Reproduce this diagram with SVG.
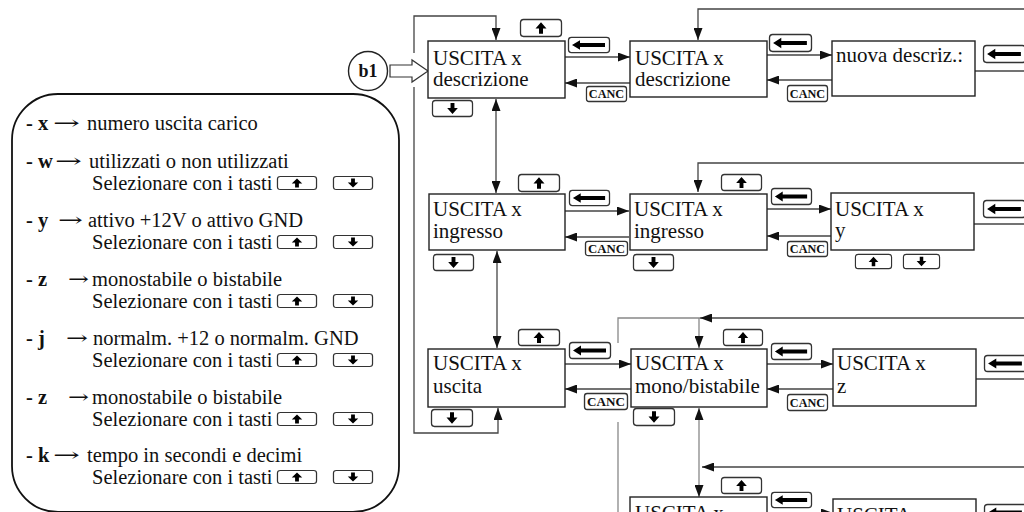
<svg xmlns="http://www.w3.org/2000/svg" xmlns:xlink="http://www.w3.org/1999/xlink" width="1024" height="512" viewBox="0 0 1024 512">
<style>
.box{fill:#fff;stroke:#222;stroke-width:1.4}
.t{font-family:"Liberation Serif","Times New Roman",serif;font-size:21px;fill:#111}
.lt{font-family:"Liberation Serif","Times New Roman",serif;font-size:20.5px;fill:#111}
.lb{font-family:"Liberation Serif","Times New Roman",serif;font-size:20.5px;font-weight:bold;fill:#111}
.ar{font-family:"DejaVu Serif","Liberation Serif",serif;font-size:18px;fill:#111}
.c{fill:none;stroke:#444;stroke-width:1.3}
.cg{fill:none;stroke:#888;stroke-width:1.3}
.key{fill:#fff;stroke:#333;stroke-width:1.3}
.canc{font-family:"Liberation Serif","Times New Roman",serif;font-size:12.5px;font-weight:bold;fill:#111}
</style>
<defs>
<marker id="ah" markerUnits="userSpaceOnUse" markerWidth="13" markerHeight="9" refX="12" refY="4.5" orient="auto-start-reverse" viewBox="0 0 13 9">
<path d="M0,0 L12,4.5 L0,9 z" fill="#111"/>
</marker>
<symbol id="kUp" viewBox="0 0 42 17" preserveAspectRatio="none" overflow="visible">
<rect class="key" x="0.5" y="0.5" width="41" height="16" rx="3"/>
<path d="M21,3 L15.5,9 L26.5,9 z M19,9 h4 v5 h-4 z" fill="#000"/>
</symbol>
<symbol id="kDown" viewBox="0 0 42 17" preserveAspectRatio="none" overflow="visible">
<rect class="key" x="0.5" y="0.5" width="41" height="16" rx="3"/>
<path d="M21,14 L15.5,8 L26.5,8 z M19,8 h4 v-5 h-4 z" fill="#000"/>
</symbol>
<symbol id="kLeft" viewBox="0 0 42 17" preserveAspectRatio="none" overflow="visible">
<rect class="key" x="0.5" y="0.5" width="41" height="16" rx="3"/>
<path d="M4,8.5 L12,3.5 L12,13.5 z M12,6.5 h25 v4 h-25 z" fill="#000"/>
</symbol>
<symbol id="kCanc" viewBox="0 0 42 16" preserveAspectRatio="none" overflow="visible">
<rect class="key" x="0.5" y="0.5" width="41" height="15" rx="2.5"/>
<text class="canc" x="21" y="12.5" text-anchor="middle">CANC</text>
</symbol>
</defs>
<rect width="1024" height="512" fill="#fff"/>

<g id="legend">
<rect x="12" y="94" width="387" height="418" rx="46" ry="46" fill="none" stroke="#111" stroke-width="1.8"/>
<text class="lb" x="26" y="130">- x</text><text class="ar" x="53" y="129" textLength="27" lengthAdjust="spacingAndGlyphs">→</text><text class="lt" x="87" y="130">numero uscita carico</text>
<text class="lb" x="26" y="168">- w</text><text class="ar" x="55" y="167" textLength="27" lengthAdjust="spacingAndGlyphs">→</text><text class="lt" x="89" y="168">utilizzati o non utilizzati</text>
<text class="lt" x="92" y="190">Selezionare con i tasti</text>
<use xlink:href="#kUp" x="277" y="176" width="40" height="14"/><use xlink:href="#kDown" x="333" y="176" width="40" height="14"/>
<text class="lb" x="26" y="227">- y</text><text class="ar" x="58" y="226" textLength="25" lengthAdjust="spacingAndGlyphs">→</text><text class="lt" x="88" y="227">attivo +12V  o attivo GND</text>
<text class="lt" x="92" y="249">Selezionare con i tasti</text>
<use xlink:href="#kUp" x="277" y="235" width="40" height="14"/><use xlink:href="#kDown" x="333" y="235" width="40" height="14"/>
<text class="lb" x="26" y="286">- z</text><text class="ar" x="68" y="285" textLength="21" lengthAdjust="spacingAndGlyphs">→</text><text class="lt" x="92" y="286">monostabile o bistabile</text>
<text class="lt" x="92" y="308">Selezionare con i tasti</text>
<use xlink:href="#kUp" x="277" y="294" width="40" height="14"/><use xlink:href="#kDown" x="333" y="294" width="40" height="14"/>
<text class="lb" x="26" y="345">- j</text><text class="ar" x="66" y="344" textLength="22" lengthAdjust="spacingAndGlyphs">→</text><text class="lt" x="93" y="345">normalm. +12 o normalm. GND</text>
<text class="lt" x="92" y="367">Selezionare con i tasti</text>
<use xlink:href="#kUp" x="277" y="353" width="40" height="14"/><use xlink:href="#kDown" x="333" y="353" width="40" height="14"/>
<text class="lb" x="26" y="404">- z</text><text class="ar" x="68" y="403" textLength="21" lengthAdjust="spacingAndGlyphs">→</text><text class="lt" x="92" y="404">monostabile o bistabile</text>
<text class="lt" x="92" y="426">Selezionare con i tasti</text>
<use xlink:href="#kUp" x="277" y="412" width="40" height="14"/><use xlink:href="#kDown" x="333" y="412" width="40" height="14"/>
<text class="lb" x="26" y="462">- k</text><text class="ar" x="53" y="461" textLength="27" lengthAdjust="spacingAndGlyphs">→</text><text class="lt" x="87" y="462">tempo in secondi e decimi</text>
<text class="lt" x="92" y="484">Selezionare con i tasti</text>
<use xlink:href="#kUp" x="277" y="470" width="40" height="14"/><use xlink:href="#kDown" x="333" y="470" width="40" height="14"/>
</g>

<g id="connectors">
<path class="c" d="M414,53 L414,16 L496,16 L496,40" marker-end="url(#ah)"/>
<path class="c" d="M414,87 L414,433 L498,433 L498,408" marker-end="url(#ah)"/>
<path class="c" d="M496,99 L496,193" marker-start="url(#ah)" marker-end="url(#ah)"/>
<path class="c" d="M497,251 L497,348" marker-start="url(#ah)" marker-end="url(#ah)"/>
<path class="c" d="M565,57 L630,57" marker-end="url(#ah)"/>
<path class="c" d="M630,83 L565,83" marker-end="url(#ah)"/>
<path class="c" d="M767,55 L832,55" marker-end="url(#ah)"/>
<path class="c" d="M832,80 L767,80" marker-end="url(#ah)"/>
<path class="c" d="M1024,9 L698,9 L698,40" marker-end="url(#ah)"/>
<path class="c" d="M975,71 L1024,71"/>
<path class="c" d="M565,211 L629,211" marker-end="url(#ah)"/>
<path class="c" d="M629,237 L565,237" marker-end="url(#ah)"/>
<path class="c" d="M767,209 L831,209" marker-end="url(#ah)"/>
<path class="c" d="M831,236 L767,236" marker-end="url(#ah)"/>
<path class="c" d="M1024,163 L698,163 L698,192" marker-end="url(#ah)"/>
<path class="c" d="M974,224 L1024,224"/>
<path class="c" d="M565,364 L631,364" marker-end="url(#ah)"/>
<path class="c" d="M631,389 L565,389" marker-end="url(#ah)"/>
<path class="c" d="M767,364 L833,364" marker-end="url(#ah)"/>
<path class="c" d="M833,389 L767,389" marker-end="url(#ah)"/>
<path class="c" d="M1024,318 L700,318" marker-end="url(#ah)"/>
<path class="cg" d="M700,318 L618,318 L618,343"/>
<path class="cg" d="M699,318 L699,348" marker-end="url(#ah)"/>
<path class="c" d="M976,379 L1024,379"/>
<path class="cg" d="M699,408 L699,497" marker-start="url(#ah)" marker-end="url(#ah)"/>
<path class="cg" d="M618,422 L618,512"/>
<path class="c" d="M1024,467 L702,467" marker-end="url(#ah)"/>
<path class="c" d="M767,513 L833,513" marker-end="url(#ah)"/>
<path class="c" d="M976,528 L1024,528"/>
</g>

<g id="b1">
<circle cx="368" cy="71" r="19.5" fill="#fff" stroke="#222" stroke-width="1.4"/>
<text x="368" y="77" text-anchor="middle" font-family="Liberation Serif, serif" font-weight="bold" font-size="18" fill="#111">b1</text>
<polygon points="390,65 412,65 412,60 428,71 412,82 412,77 390,77" fill="#fff" stroke="#333" stroke-width="1.2"/>
</g>

<g id="n-desc1">
<rect class="box" x="428" y="41" width="137" height="57"/>
<text class="t" x="433" y="65">USCITA x</text><text class="t" x="433" y="86">descrizione</text>
<use xlink:href="#kUp" x="520" y="19" width="42" height="18"/>
<use xlink:href="#kDown" x="432" y="100" width="41" height="17"/>
<use xlink:href="#kLeft" x="568" y="37" width="42" height="16"/>
<use xlink:href="#kCanc" x="586" y="86" width="41" height="16"/>
</g>
<g id="n-desc2">
<rect class="box" x="630" y="41" width="137" height="56"/>
<text class="t" x="635" y="65">USCITA x</text><text class="t" x="635" y="86">descrizione</text>
<use xlink:href="#kLeft" x="769" y="34" width="43" height="18"/>
<use xlink:href="#kCanc" x="787" y="85" width="41" height="17"/>
</g>
<g id="n-nuova">
<rect class="box" x="832" y="41" width="143" height="55"/>
<text class="t" x="836" y="62">nuova descriz.:</text>
<use xlink:href="#kLeft" x="983" y="45" width="43" height="18"/>
</g>

<g id="n-ingr1">
<rect class="box" x="429" y="194" width="136" height="56"/>
<text class="t" x="433" y="216">USCITA x</text><text class="t" x="433" y="238">ingresso</text>
<use xlink:href="#kUp" x="518" y="174" width="42" height="18"/>
<use xlink:href="#kDown" x="433" y="254" width="41" height="17"/>
<use xlink:href="#kLeft" x="569" y="190" width="41" height="16"/>
<use xlink:href="#kCanc" x="585" y="241" width="43" height="15"/>
</g>
<g id="n-ingr2">
<rect class="box" x="630" y="194" width="137" height="56"/>
<text class="t" x="634" y="216">USCITA x</text><text class="t" x="634" y="238">ingresso</text>
<use xlink:href="#kUp" x="721" y="174" width="41" height="17"/>
<use xlink:href="#kDown" x="633" y="254" width="41" height="17"/>
<use xlink:href="#kLeft" x="771" y="188" width="41" height="17"/>
<use xlink:href="#kCanc" x="787" y="241" width="41" height="16"/>
</g>
<g id="n-y">
<rect class="box" x="831" y="193" width="143" height="57"/>
<text class="t" x="835" y="216">USCITA x</text><text class="t" x="835" y="237">y</text>
<use xlink:href="#kUp" x="855" y="254" width="37" height="15"/>
<use xlink:href="#kDown" x="903" y="254" width="37" height="15"/>
<use xlink:href="#kLeft" x="983" y="200" width="43" height="18"/>
</g>

<g id="n-usc">
<rect class="box" x="428" y="349" width="137" height="58"/>
<text class="t" x="433" y="370">USCITA x</text><text class="t" x="433" y="393">uscita</text>
<use xlink:href="#kUp" x="518" y="329" width="42" height="17"/>
<use xlink:href="#kDown" x="431" y="409" width="42" height="18"/>
<use xlink:href="#kLeft" x="569" y="342" width="42" height="17"/>
<use xlink:href="#kCanc" x="584" y="393" width="44" height="17"/>
</g>
<g id="n-mono">
<rect class="box" x="631" y="349" width="136" height="58"/>
<text class="t" x="635" y="370">USCITA x</text><text class="t" x="635" y="393">mono/bistabile</text>
<use xlink:href="#kUp" x="723" y="329" width="40" height="17"/>
<use xlink:href="#kDown" x="633" y="408" width="42" height="18"/>
<use xlink:href="#kLeft" x="771" y="343" width="41" height="17"/>
<use xlink:href="#kCanc" x="787" y="394" width="41" height="17"/>
</g>
<g id="n-z">
<rect class="box" x="833" y="349" width="143" height="57"/>
<text class="t" x="837" y="370">USCITA x</text><text class="t" x="837" y="393">z</text>
<use xlink:href="#kLeft" x="984" y="355" width="43" height="17"/>
</g>

<g id="n-row4a">
<rect class="box" x="630" y="497" width="137" height="57"/>
<text class="t" x="635" y="520">USCITA x</text>
<use xlink:href="#kUp" x="721" y="477" width="41" height="17"/>
<use xlink:href="#kLeft" x="771" y="492" width="41" height="16"/>
</g>
<g id="n-row4b">
<rect class="box" x="833" y="499" width="143" height="57"/>
<text class="t" x="837" y="522">USCITA x</text>
<use xlink:href="#kLeft" x="984" y="504" width="43" height="17"/>
</g>
</svg>
